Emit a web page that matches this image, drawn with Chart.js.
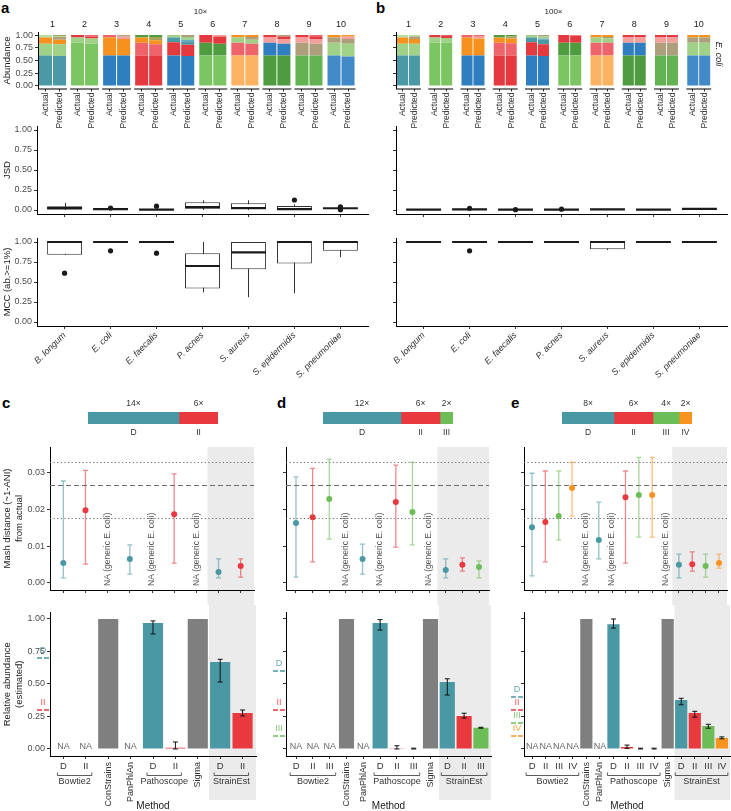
<!DOCTYPE html>
<html>
<head>
<meta charset="utf-8">
<script src="https://cdn.jsdelivr.net/npm/chart.js@4.4.1/dist/chart.umd.min.js"></script>
<style>
html, body { margin: 0; padding: 0; background: #fff; }
#fig { position: relative; width: 731px; height: 811px; overflow: hidden; font-family: 'Liberation Sans', Arial, sans-serif; }
#fig canvas { position: absolute; }
.lbl { position: absolute; font-weight: bold; font-size: 15px; line-height: 15px; color: #000; }
</style>
</head>
<body>
<div id="fig">
  <div class="lbl" style="left:1px;top:0px">a</div>
  <div class="lbl" style="left:376px;top:0px">b</div>
  <div class="lbl" style="left:2px;top:395px">c</div>
  <div class="lbl" style="left:277px;top:395px">d</div>
  <div class="lbl" style="left:511px;top:395px">e</div>
</div>
<script>
const FONT = "'Liberation Sans', Arial, Helvetica, sans-serif";
Chart.defaults.font.family = FONT;
Chart.defaults.font.size = 9;
Chart.defaults.color = '#4d4d4d';
Chart.defaults.animation = false;
Chart.defaults.events = [];
Chart.defaults.plugins.legend.display = false;
Chart.defaults.plugins.tooltip.enabled = false;

// ---------- data: panels a / b (community composition) ----------
const facets = ['1', '2', '3', '4', '5', '6', '7', '8', '9', '10'];
const samples = ['Actual', 'Predicted'];
// strain shown in each stacked layer, per community (bottom -> top)
const strainKeys = [
  ['teal', 'lgreen', 'orange', 'tan', 'pgreen', 'olive'],
  ['green', 'lgreen', 'red', 'pink'],
  ['blue', 'orange', 'salmon', 'pink', 'tan'],
  ['red', 'pink', 'orange', 'olive', 'dgreen'],
  ['blue', 'red', 'teal', 'sky', 'lgreen', 'tan'],
  ['green', 'dgreen', 'red', 'salmon'],
  ['lorange', 'pink', 'lgreen', 'tan', 'orange'],
  ['dgreen', 'blue', 'salmon', 'red', 'tan'],
  ['mgreen', 'tan', 'salmon', 'red', 'pink'],
  ['blue2', 'lgreen', 'tan', 'salmon', 'orange']
];
const actualAbund = [
  [0.60, 0.23, 0.12, 0, 0.05, 0],
  [0.85, 0.10, 0.05, 0],
  [0.60, 0.35, 0, 0.05, 0],
  [0.60, 0.25, 0.10, 0, 0.05],
  [0.60, 0.26, 0.09, 0, 0.05, 0],
  [0.60, 0.25, 0.15, 0],
  [0.60, 0.25, 0.10, 0, 0.05],
  [0.60, 0.25, 0.10, 0.05, 0],
  [0.60, 0.25, 0.10, 0.05, 0],
  [0.60, 0.25, 0.10, 0, 0.05]
];
const predicted10x = [
  [0.59, 0.23, 0.09, 0.05, 0.02, 0.02],
  [0.83, 0.10, 0.04, 0.03],
  [0.60, 0.32, 0.05, 0, 0.03],
  [0.59, 0.23, 0.08, 0.06, 0.04],
  [0.59, 0.22, 0.07, 0.03, 0.05, 0.04],
  [0.60, 0.23, 0.14, 0.03],
  [0.60, 0.23, 0.08, 0.05, 0.04],
  [0.60, 0.23, 0.09, 0.05, 0.03],
  [0.60, 0.23, 0.09, 0.04, 0.04],
  [0.58, 0.25, 0.09, 0.05, 0.03]
];
const predicted100x = [
  [0.60, 0.23, 0.09, 0.05, 0.03, 0],
  [0.85, 0.09, 0.04, 0.02],
  [0.60, 0.33, 0.05, 0.02, 0],
  [0.60, 0.24, 0.09, 0.04, 0.03],
  [0.59, 0.23, 0.09, 0.02, 0.04, 0.03],
  [0.60, 0.25, 0.14, 0.01],
  [0.60, 0.25, 0.08, 0.03, 0.04],
  [0.60, 0.25, 0.10, 0.05, 0],
  [0.60, 0.25, 0.10, 0.05, 0],
  [0.60, 0.25, 0.10, 0, 0.05]
];

// ---------- data: JSD / MCC box plots  [min, q1, median, q3, max] ----------
const species = ['B. longum', 'E. coli', 'E. faecalis', 'P. acnes', 'S. aureus', 'S. epidermidis', 'S. pneumoniae'];
const jsd10 = [
  [0.000, 0.003, 0.025, 0.048, 0.090], [0.005, 0.008, 0.012, 0.018, 0.020], [0.000, 0.002, 0.005, 0.012, 0.020],
  [0.000, 0.015, 0.035, 0.098, 0.120], [0.000, 0.005, 0.025, 0.085, 0.120], [0.000, 0.002, 0.012, 0.050, 0.070],
  [0.015, 0.018, 0.022, 0.025, 0.030]
];
const jsd10Out = [[], [0.025], [0.048], [], [], [0.125], [0.038, 0.004]];
const mcc10 = [
  [0.84, 0.84, 1, 1, 1], [1, 1, 1, 1, 1], [1, 1, 1, 1, 1], [0.37, 0.42, 0.70, 0.86, 1],
  [0.31, 0.66, 0.87, 1, 1], [0.36, 0.73, 1, 1, 1], [0.81, 0.89, 1, 1, 1]
];
const mcc10Out = [[0.61], [0.89], [0.86], [], [], [], []];
const jsd100 = [
  [0.002, 0.004, 0.005, 0.006, 0.008], [0.004, 0.006, 0.008, 0.010, 0.012], [0.002, 0.003, 0.004, 0.005, 0.007],
  [0.003, 0.004, 0.005, 0.006, 0.008], [0.004, 0.005, 0.007, 0.008, 0.010], [0.002, 0.003, 0.004, 0.005, 0.007],
  [0.010, 0.012, 0.014, 0.016, 0.018]
];
const jsd100Out = [[], [0.022], [0.004], [0.010], [], [], []];
const mcc100 = [
  [1, 1, 1, 1, 1], [1, 1, 1, 1, 1], [1, 1, 1, 1, 1], [1, 1, 1, 1, 1],
  [0.90, 0.91, 1, 1, 1], [1, 1, 1, 1, 1], [1, 1, 1, 1, 1]
];
const mcc100Out = [[], [0.89], [], [], [], [], []];

// ---------- data: panels c / d / e ----------
const methods = ['Bowtie2', 'ConStrains', 'PanPhlAn', 'Pathoscope', 'Sigma', 'StrainEst'];
const perStrain = [true, false, false, true, false, true];
const strainsC = ['D', 'II'];
const strainsD = ['D', 'II', 'III'];
const strainsE = ['D', 'II', 'III', 'IV'];
const covC = [14, 6];
const covD = [12, 6, 2];
const covE = [8, 6, 4, 2];
const mashRefLines = [0.0327, 0.0265, 0.0176];

const mashC   = [0.0054, 0.0197, null, 0.0065, null, 0.0186, null, 0.0030, 0.0046];
const mashLoC = [0.0014, 0.0051, null, 0.0024, null, 0.0054, null, 0.0014, 0.0016];
const mashHiC = [0.0276, 0.0305, null, 0.0103, null, 0.0295, null, 0.0065, 0.0065];
const mashD   = [0.0162, 0.0178, 0.0227, null, 0.0065, null, 0.0219, 0.0192, null, 0.0035, 0.0049, 0.0043];
const mashLoD = [0.0016, 0.0057, 0.0119, null, 0.0024, null, 0.0097, 0.0103, null, 0.0014, 0.0032, 0.0014];
const mashHiD = [0.0287, 0.0310, 0.0335, null, 0.0105, null, 0.0319, 0.0327, null, 0.0065, 0.0068, 0.0060];
const mashE   = [0.0151, 0.0165, 0.0181, 0.0257, null, 0.0116, null, 0.0232, 0.0238, 0.0238, null, 0.0049, 0.0051, 0.0046, 0.0054];
const mashLoE = [0.0019, 0.0057, 0.0116, 0.0181, null, 0.0065, null, 0.0054, 0.0124, 0.0124, null, 0.0014, 0.0032, 0.0016, 0.0040];
const mashHiE = [0.0297, 0.0303, 0.0303, 0.0327, null, 0.0219, null, 0.0303, 0.0340, 0.0340, null, 0.0078, 0.0084, 0.0078, 0.0078];

const absC   = [null, null, 1.00, null, 0.97, 0.010, 1.00, 0.670, 0.277];
const absLoC = [null, null, null, null, 0.885, 0.000, null, 0.515, 0.254];
const absHiC = [null, null, null, null, 0.985, 0.054, null, 0.690, 0.300];
const absD   = [null, null, null, 1.00, null, 0.970, 0.005, 0.003, 1.00, 0.515, 0.254, 0.163];
const absLoD = [null, null, null, null, null, 0.915, 0.000, 0.000, null, 0.415, 0.238, 0.160];
const absHiD = [null, null, null, null, null, 0.995, 0.025, 0.006, null, 0.540, 0.275, 0.167];
const absE   = [null, null, null, null, 1.00, null, 0.960, 0.015, 0.003, 0.003, 1.00, 0.377, 0.277, 0.177, 0.085];
const absLoE = [null, null, null, null, null, null, 0.930, 0.005, 0.000, 0.000, null, 0.340, 0.245, 0.160, 0.078];
const absHiE = [null, null, null, null, null, null, 1.000, 0.030, 0.006, 0.006, null, 0.390, 0.290, 0.190, 0.093];

// ---------- styles ----------
const pal = {
  teal: '#4b99a6', lgreen: '#9fd286', pgreen: '#b5de9f', green: '#7cc563', mgreen: '#63b352', dgreen: '#4f9b40',
  orange: '#f6911e', lorange: '#fdb462', red: '#e43a3f', pink: '#ef636a', salmon: '#f3a09d',
  blue: '#2f7ec0', blue2: '#4189c7', sky: '#63a9c4', tan: '#ae9f7c', olive: '#a9a35a'
};
const strainCol = { D: '#4a98a4', II: '#e8393f', III: '#6cbd58', IV: '#f7931e' };
const methodGrey = '#7f7f7f';
const bandGrey = '#ebebeb';

function alpha(hex, a) {
  const n = parseInt(hex.slice(1), 16);
  return `rgba(${n >> 16},${(n >> 8) & 255},${n & 255},${a})`;
}
function addCanvas(left, top, w, h) {
  const c = document.createElement('canvas');
  c.width = w; c.height = h;
  c.style.left = left + 'px'; c.style.top = top + 'px';
  c.style.width = w + 'px'; c.style.height = h + 'px';
  document.getElementById('fig').appendChild(c);
  return c;
}
function fixY(width) {
  return s => { s.width = width; s.paddingTop = 0; s.paddingBottom = 0; s.paddingLeft = 0; s.paddingRight = 0; };
}
function fixX(height) {
  return s => { s.height = height; s.paddingTop = 0; s.paddingBottom = 0; s.paddingLeft = 0; s.paddingRight = 0; };
}
function setTicks(vals) {
  return s => { s.ticks = vals.map(v => ({ value: v })); };
}
const gridTicks = { drawOnChartArea: false, drawTicks: true, tickLength: 3, tickColor: '#333', tickWidth: 1, offset: false };
const axisBorder = { display: true, color: '#000', width: 1 };

function yScale(o) {
  return {
    type: 'linear', position: 'left', min: o.min, max: o.max, stacked: !!o.stacked,
    afterBuildTicks: setTicks(o.ticks), afterFit: fixY(o.width),
    ticks: { display: o.labels !== false, font: { size: 9 }, color: '#4d4d4d', padding: 2, callback: v => v.toFixed(2) },
    grid: gridTicks, border: axisBorder,
    title: o.title
      ? { display: true, text: o.title, font: { size: 9.5 }, color: '#1a1a1a', padding: { top: 2, bottom: 0 } }
      : { display: false }
  };
}
function buildCats(strains) {
  const cats = [];
  methods.forEach((m, mi) => {
    if (perStrain[mi]) strains.forEach(s => cats.push({ method: m, strain: s }));
    else cats.push({ method: m, strain: null });
  });
  return cats;
}

// ---------- plugins ----------
function facetPlugin(o) {
  return {
    id: 'facets',
    afterDraw(chart) {
      const { ctx, chartArea: ca } = chart;
      const meta = chart.getDatasetMeta(0);
      ctx.save();
      ctx.strokeStyle = '#000'; ctx.lineWidth = 1;
      ctx.fillStyle = '#1a1a1a'; ctx.font = `9px ${FONT}`;
      ctx.textAlign = 'center'; ctx.textBaseline = 'middle';
      facets.forEach((f, fi) => {
        const a = meta.data[2 * fi], p = meta.data[2 * fi + 1];
        const l = a.x - a.width / 2, r = p.x + p.width / 2;
        ctx.beginPath(); ctx.moveTo(l - 1, ca.bottom + 0.5); ctx.lineTo(r + 1, ca.bottom + 0.5); ctx.stroke();
        ctx.fillText(f, (l + r) / 2, 25);
      });
      ctx.font = `8px ${FONT}`;
      ctx.fillText(o.title, (ca.left + ca.right) / 2, 12);
      if (o.strip) {
        ctx.save();
        ctx.translate(ca.right + 7, 54); ctx.rotate(Math.PI / 2);
        ctx.font = `italic 9px ${FONT}`;
        ctx.fillText(o.strip, 0, 0);
        ctx.restore();
      }
      ctx.restore();
    }
  };
}
function whiskerPlugin(stats) {
  return {
    id: 'whiskers',
    beforeDatasetsDraw(chart) {
      const { ctx } = chart, xs = chart.scales.x, ys = chart.scales.y;
      ctx.save(); ctx.strokeStyle = '#333'; ctx.lineWidth = 1;
      stats.forEach((s, i) => {
        const x = Math.round(xs.getPixelForValue(i + 1)) + 0.5;
        ctx.beginPath(); ctx.moveTo(x, ys.getPixelForValue(s[0])); ctx.lineTo(x, ys.getPixelForValue(s[4])); ctx.stroke();
      });
      ctx.restore();
    },
    afterDatasetsDraw(chart) {
      const { ctx } = chart, ys = chart.scales.y, meta = chart.getDatasetMeta(0);
      ctx.save(); ctx.strokeStyle = '#1a1a1a'; ctx.lineWidth = 2.2;
      stats.forEach((s, i) => {
        const el = meta.data[i], y = ys.getPixelForValue(s[2]);
        ctx.beginPath(); ctx.moveTo(el.x - el.width / 2, y); ctx.lineTo(el.x + el.width / 2, y); ctx.stroke();
      });
      ctx.restore();
    }
  };
}
function drawErr(chart) {
  const { ctx } = chart, xs = chart.scales.x, ys = chart.scales.y;
  chart.data.datasets.forEach(ds => {
    if (!ds.errLo) return;
    ctx.save(); ctx.lineWidth = ds.errWidth;
    ds.errLo.forEach((lo, i) => {
      const hi = ds.errHi[i];
      if (lo == null || hi == null) return;
      const x = xs.getPixelForValue(i), y0 = ys.getPixelForValue(lo), y1 = ys.getPixelForValue(hi);
      ctx.strokeStyle = ds.errColor[i];
      ctx.beginPath();
      ctx.moveTo(x, y0); ctx.lineTo(x, y1);
      ctx.moveTo(x - ds.errCap, y0); ctx.lineTo(x + ds.errCap, y0);
      ctx.moveTo(x - ds.errCap, y1); ctx.lineTo(x + ds.errCap, y1);
      ctx.stroke();
    });
    ctx.restore();
  });
}
const errBelow = { id: 'errBelow', beforeDatasetsDraw: drawErr };
const errAbove = { id: 'errAbove', afterDatasetsDraw: drawErr };

function bandPlugin(fromIdx, top, bottom) {
  return {
    id: 'band',
    beforeDraw(chart) {
      const { ctx, chartArea: ca } = chart;
      const x0 = chart.scales.x.getPixelForValue(fromIdx - 0.5);
      const t = top(chart), b = bottom(chart);
      ctx.save(); ctx.fillStyle = bandGrey; ctx.fillRect(x0, t, ca.right - x0, b - t); ctx.restore();
    }
  };
}
const mashLinePlugin = {
  id: 'mashLines',
  beforeDatasetsDraw(chart) {
    const { ctx, chartArea: ca } = chart, ys = chart.scales.y;
    ctx.save(); ctx.strokeStyle = '#6b6b6b'; ctx.lineWidth = 1;
    mashRefLines.forEach((v, i) => {
      const y = Math.round(ys.getPixelForValue(v)) + 0.5;
      ctx.setLineDash(i === 1 ? [5, 3] : [1.2, 2.4]);
      ctx.beginPath(); ctx.moveTo(ca.left, y); ctx.lineTo(ca.right, y); ctx.stroke();
    });
    ctx.restore();
  }
};
function mashNaPlugin(values) {
  return {
    id: 'mashNA',
    afterDraw(chart) {
      const { ctx } = chart, xs = chart.scales.x, ys = chart.scales.y;
      ctx.save(); ctx.fillStyle = '#555'; ctx.font = `8.5px ${FONT}`;
      ctx.textAlign = 'left'; ctx.textBaseline = 'middle';
      values.forEach((v, i) => {
        if (v != null) return;
        ctx.save();
        ctx.translate(xs.getPixelForValue(i), ys.getPixelForValue(0) + 3);
        ctx.rotate(-Math.PI / 2);
        ctx.fillText('NA (generic E. coli)', 0, 0);
        ctx.restore();
      });
      ctx.restore();
    }
  };
}
function absNaPlugin(values) {
  return {
    id: 'absNA',
    afterDraw(chart) {
      const { ctx } = chart, xs = chart.scales.x, ys = chart.scales.y;
      ctx.save(); ctx.fillStyle = '#666'; ctx.font = `9px ${FONT}`;
      ctx.textAlign = 'center'; ctx.textBaseline = 'middle';
      values.forEach((v, i) => {
        if (v == null) ctx.fillText('NA', xs.getPixelForValue(i), ys.getPixelForValue(0) - 2);
      });
      ctx.restore();
    }
  };
}
function refPlugin(strains, cov) {
  const tot = cov.reduce((a, b) => a + b, 0);
  return {
    id: 'refs',
    afterDraw(chart) {
      const { ctx, chartArea: ca } = chart, ys = chart.scales.y;
      ctx.save(); ctx.lineWidth = 1.3;
      ctx.font = `9px ${FONT}`; ctx.textAlign = 'center'; ctx.textBaseline = 'middle';
      strains.forEach((s, i) => {
        const y = ys.getPixelForValue(cov[i] / tot);
        ctx.strokeStyle = strainCol[s];
        ctx.setLineDash([5, 2]);
        ctx.beginPath(); ctx.moveTo(ca.left - 13, y); ctx.lineTo(ca.left - 1, y); ctx.stroke();
        ctx.fillStyle = alpha(strainCol[s], 0.85);
        ctx.fillText(s, ca.left - 7, y - 7);
      });
      ctx.restore();
    }
  };
}
function methodPlugin(cats) {
  return {
    id: 'methods',
    afterDraw(chart) {
      const { ctx, chartArea: ca } = chart, xs = chart.scales.x;
      ctx.save(); ctx.strokeStyle = '#333'; ctx.fillStyle = '#333'; ctx.lineWidth = 0.8;
      ctx.font = `9px ${FONT}`;
      methods.forEach((m, mi) => {
        const idx = cats.map((c, i) => (c.method === m ? i : -1)).filter(i => i >= 0);
        if (perStrain[mi]) {
          const x0 = xs.getPixelForValue(idx[0]) - 6, x1 = xs.getPixelForValue(idx[idx.length - 1]) + 6;
          const y = ca.bottom + 19.5;
          ctx.beginPath(); ctx.moveTo(x0, y - 3); ctx.lineTo(x0, y); ctx.lineTo(x1, y); ctx.lineTo(x1, y - 3); ctx.stroke();
          ctx.textAlign = 'center'; ctx.textBaseline = 'top';
          ctx.fillText(m, (x0 + x1) / 2, y + 2);
        } else {
          ctx.save();
          ctx.translate(xs.getPixelForValue(idx[0]), ca.bottom + 6);
          ctx.rotate(-Math.PI / 2);
          ctx.textAlign = 'right'; ctx.textBaseline = 'middle';
          ctx.fillText(m, 0, 0);
          ctx.restore();
        }
      });
      ctx.restore();
    }
  };
}
const coveragePlugin = {
  id: 'coverage',
  afterDraw(chart) {
    const { ctx } = chart;
    ctx.save(); ctx.fillStyle = '#333'; ctx.font = `8.5px ${FONT}`;
    ctx.textAlign = 'center'; ctx.textBaseline = 'middle';
    chart.data.datasets.forEach((ds, i) => {
      const el = chart.getDatasetMeta(i).data[0];
      const cx = (el.base + el.x) / 2;
      ctx.fillText(ds.data[0] + '\u00d7', cx, el.y - el.height / 2 - 8);
      ctx.fillText(ds.label, cx, el.y + el.height / 2 + 9);
    });
    ctx.restore();
  }
};

// ---------- panels a / b: composition bars ----------
function compositionChart(left, width, predicted, o) {
  const cv = addCanvas(left, 0, width, 140);
  const nLayers = Math.max(...strainKeys.map(k => k.length));
  const datasets = [];
  for (let l = 0; l < nLayers; l++) {
    const data = [], colors = [];
    facets.forEach((f, fi) => {
      const c = pal[strainKeys[fi][l]] || '#ffffff';
      data.push({ x: fi * o.pitch, y: actualAbund[fi][l] || 0 }, { x: fi * o.pitch + 1, y: predicted[fi][l] || 0 });
      colors.push(c, c);
    });
    datasets.push({ data, backgroundColor: colors, borderWidth: 0, categoryPercentage: 0.93, barPercentage: 1 });
  }
  const xTicks = facets.flatMap((f, fi) => [fi * o.pitch, fi * o.pitch + 1]);
  new Chart(cv, {
    type: 'bar',
    data: { datasets },
    options: {
      responsive: false, devicePixelRatio: 1,
      layout: { padding: { top: 32.5, right: o.padRight, left: 0, bottom: 0 } },
      scales: {
        x: {
          type: 'linear', stacked: true, min: o.min, max: o.max, offset: false,
          afterBuildTicks: setTicks(xTicks), afterFit: fixX(51.5),
          ticks: { autoSkip: false, minRotation: 90, maxRotation: 90, font: { size: 8.5 }, color: '#333', padding: 1,
                   callback: (v, i) => samples[i % 2] },
          grid: gridTicks, border: { display: false }
        },
        y: yScale({ min: -0.05, max: 1.05, ticks: [0, 0.25, 0.5, 0.75, 1], width: o.yW, labels: o.yLabels,
                    title: o.yLabels ? 'Abundance' : null, stacked: true })
      }
    },
    plugins: [facetPlugin(o)]
  });
}
compositionChart(0, 368, predicted10x, { pitch: 2.29, min: -0.536, max: 22.68, padRight: 5, yW: 38, yLabels: true, title: '10\u00d7' });
compositionChart(368, 363, predicted100x, { pitch: 2.71, min: -0.549, max: 25.92, padRight: 20, yW: 28, yLabels: false, title: '100\u00d7', strip: 'E. coli' });

// ---------- panels a / b: box plots ----------
function boxChart(left, top, width, height, stats, outs, o) {
  const cv = addCanvas(left, top, width, height);
  new Chart(cv, {
    type: 'bar',
    data: {
      datasets: [
        { data: stats.map((s, i) => ({ x: i + 1, y: [s[1], s[3]] })), backgroundColor: '#fff', borderColor: '#333',
          borderWidth: 1, borderSkipped: false, categoryPercentage: 0.76, barPercentage: 1 },
        { type: 'scatter', data: outs.flatMap((a, i) => a.map(v => ({ x: i + 1, y: v }))),
          pointRadius: 2.6, pointBackgroundColor: '#1a1a1a', pointBorderWidth: 0 }
      ]
    },
    options: {
      responsive: false, devicePixelRatio: 1,
      layout: { padding: { top: o.padTop, right: o.padRight, left: 0, bottom: 0 } },
      scales: {
        x: {
          type: 'linear', min: 0.4, max: 7.6, offset: false,
          afterBuildTicks: setTicks(species.map((s, i) => i + 1)), afterFit: fixX(o.xH),
          ticks: { display: o.xLabels, autoSkip: false, minRotation: 45, maxRotation: 45,
                   font: { size: 9, style: 'italic' }, color: '#333', padding: 1, callback: (v, i) => species[i] },
          grid: gridTicks, border: axisBorder
        },
        y: yScale({ min: -0.05, max: 1.05, ticks: [0, 0.25, 0.5, 0.75, 1], width: o.yW, labels: o.yLabels, title: o.title })
      }
    },
    plugins: [whiskerPlugin(stats)]
  });
}
boxChart(0, 120, 372, 105, jsd10, jsd10Out, { padTop: 6, padRight: 2, xH: 11, xLabels: false, yW: 37, yLabels: true, title: 'JSD' });
boxChart(0, 228, 372, 152, mcc10, mcc10Out, { padTop: 10, padRight: 2, xH: 54, xLabels: true, yW: 37, yLabels: true, title: 'MCC (ab.>=1%)' });
boxChart(368, 120, 363, 105, jsd100, jsd100Out, { padTop: 6, padRight: 2, xH: 11, xLabels: false, yW: 28, yLabels: false });
boxChart(368, 228, 363, 152, mcc100, mcc100Out, { padTop: 10, padRight: 2, xH: 54, xLabels: true, yW: 28, yLabels: false });

// ---------- panels c / d / e ----------
function strainBar(left, strains, cov) {
  const cv = addCanvas(left, 395, 150, 45);
  new Chart(cv, {
    type: 'bar',
    data: {
      labels: [''],
      datasets: strains.map((s, i) => ({ label: s, data: [cov[i]], backgroundColor: strainCol[s], borderWidth: 0,
                                          barPercentage: 1, categoryPercentage: 1 }))
    },
    options: {
      indexAxis: 'y', responsive: false, devicePixelRatio: 1,
      layout: { padding: { left: 8, right: 12, top: 17, bottom: 16 } },
      scales: {
        x: { stacked: true, display: false, min: 0, max: cov.reduce((a, b) => a + b, 0) },
        y: { stacked: true, display: false }
      }
    },
    plugins: [coveragePlugin]
  });
}
function mashChart(left, width, strains, mash, lo, hi, o) {
  const cats = buildCats(strains);
  const n = cats.length;
  const cols = cats.map(c => strainCol[c.strain || 'D']);
  const firstEst = cats.findIndex(c => c.method === 'StrainEst');
  const cv = addCanvas(left, 440, width, 165);
  new Chart(cv, {
    type: 'scatter',
    data: {
      datasets: [{
        data: cats.map((c, i) => ({ x: i, y: mash[i] })), pointRadius: 3, pointBackgroundColor: cols, pointBorderWidth: 0,
        errLo: lo, errHi: hi, errColor: cols.map(c => alpha(c, 0.6)), errCap: 2.5, errWidth: 1.3
      }]
    },
    options: {
      responsive: false, devicePixelRatio: 1,
      layout: { padding: { top: 7, right: o.padRight, left: 0, bottom: 0 } },
      scales: {
        x: {
          type: 'linear', min: -0.6, max: n - 0.4, offset: false,
          afterBuildTicks: setTicks(cats.map((c, i) => i)), afterFit: fixX(15),
          ticks: { display: false }, grid: gridTicks, border: axisBorder
        },
        y: yScale({ min: -0.0019, max: 0.0368, ticks: [0, 0.01, 0.02, 0.03], width: o.yW, labels: o.labels,
                    title: o.labels ? ['Mash distance (~1-ANI)', 'from actual'] : null })
      }
    },
    plugins: [bandPlugin(firstEst, ch => ch.chartArea.top, ch => ch.height), mashLinePlugin, errBelow, mashNaPlugin(mash)]
  });
}
function relAbundChart(left, width, strains, cov, abund, lo, hi, o) {
  const cats = buildCats(strains);
  const n = cats.length;
  const cols = cats.map(c => (c.strain ? strainCol[c.strain] : methodGrey));
  const firstEst = cats.findIndex(c => c.method === 'StrainEst');
  const cv = addCanvas(left, 605, width, 206);
  new Chart(cv, {
    type: 'bar',
    data: {
      datasets: [{
        data: cats.map((c, i) => ({ x: i, y: abund[i] })), backgroundColor: cols, borderWidth: 0,
        categoryPercentage: 0.9, barPercentage: 1,
        errLo: lo, errHi: hi, errColor: cols.map(() => '#111'), errCap: 2.5, errWidth: 1
      }]
    },
    options: {
      responsive: false, devicePixelRatio: 1,
      layout: { padding: { top: 7.5, right: o.padRight, left: 0, bottom: 0 } },
      scales: {
        x: {
          type: 'linear', min: -0.6, max: n - 0.4, offset: false,
          afterBuildTicks: setTicks(cats.map((c, i) => i)), afterFit: fixX(55),
          ticks: { autoSkip: false, maxRotation: 0, minRotation: 0, font: { size: 9.5 }, color: '#333', padding: 2,
                   callback: (v, i) => cats[i].strain || '' },
          grid: gridTicks, border: axisBorder,
          title: { display: true, text: 'Method', font: { size: 10, lineHeight: 1 }, color: '#1a1a1a', padding: { top: 0, bottom: 0 } }
        },
        y: yScale({ min: -0.054, max: 1.05, ticks: [0, 0.25, 0.5, 0.75, 1], width: o.yW, labels: o.labels,
                    title: o.labels ? ['Relative abundance', '(estimated)'] : null })
      }
    },
    plugins: [bandPlugin(firstEst, () => 0, () => 195), errAbove, absNaPlugin(abund), refPlugin(strains, cov), methodPlugin(cats)]
  });
}

strainBar(80, strainsC, covC);
strainBar(315, strainsD, covD);
strainBar(554, strainsE, covE);

mashChart(0, 258, strainsC, mashC, mashLoC, mashHiC, { yW: 50, padRight: 2, labels: true });
mashChart(258, 235, strainsD, mashD, mashLoD, mashHiD, { yW: 28, padRight: 2, labels: false });
mashChart(493, 238, strainsE, mashE, mashLoE, mashHiE, { yW: 31, padRight: 1, labels: false });

relAbundChart(0, 258, strainsC, covC, absC, absLoC, absHiC, { yW: 50, padRight: 2, labels: true });
relAbundChart(258, 235, strainsD, covD, absD, absLoD, absHiD, { yW: 28, padRight: 2, labels: false });
relAbundChart(493, 238, strainsE, covE, absE, absLoE, absHiE, { yW: 31, padRight: 1, labels: false });
</script>
</body>
</html>
